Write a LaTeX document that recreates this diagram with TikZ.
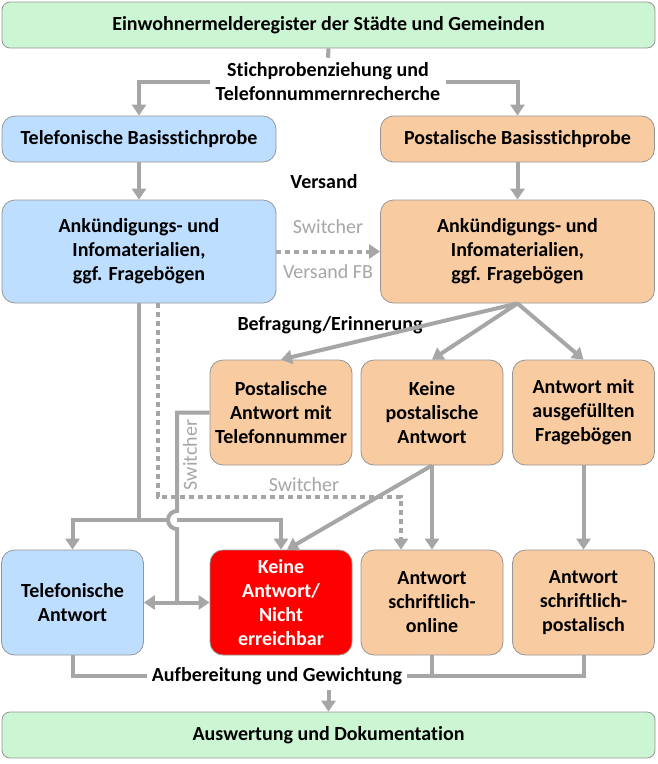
\documentclass[tikz,border=0pt]{standalone}
\usepackage{fontspec}
\setmainfont{Carlito}[Ligatures={NoCommon}]
\usetikzlibrary{arrows.meta, positioning}

\definecolor{regfill}{RGB}{204,245,211}
\definecolor{telfill}{RGB}{189,222,255}
\definecolor{postfill}{RGB}{248,203,161}
\definecolor{nofill}{RGB}{255,0,0}
\definecolor{linegray}{RGB}{166,166,166}
\definecolor{boxline}{RGB}{150,150,150}

\tikzset{
  box/.style={draw=boxline, line width=0.8pt, rounded corners=13pt, align=center, inner sep=0pt},
  widebox/.style={box, rounded corners=8pt, minimum width=653pt, minimum height=46pt, fill=regfill},
  basebox/.style={box, minimum width=274pt, minimum height=46pt},
  infobox/.style={box, minimum width=274pt, minimum height=103pt},
  smallbox/.style={box, minimum width=142pt, minimum height=105pt},
  phone/.style={fill=telfill},
  mail/.style={fill=postfill},
  conn/.style={draw=linegray, line width=4pt},
  arr/.style={conn, -{Triangle[width=14pt,length=11pt]}},
  dotarr/.style={arr, dash pattern=on 5pt off 4pt},
  lbl/.style={inner sep=5pt, align=center},
  switchlbl/.style={lbl, text=linegray, font=\fontsize{20}{24}\selectfont},
}

\begin{document}
\begin{tikzpicture}[x=1pt, y=-1pt, font=\fontsize{20}{24}\selectfont\bfseries]
	\useasboundingbox (0,0) rectangle (658,764);

	%%%% boxes
	\node[widebox] (reg) at (328.5,25) {Einwohnermelderegister der St\"adte und Gemeinden};
	\node[basebox, phone] (telbasis) at (139,139) {Telefonische Basisstichprobe};
	\node[basebox, mail] (postbasis) at (517.5,139) {Postalische Basisstichprobe};
	\node[infobox, phone] (telinfo) at (139,251.5) {Ank\"undigungs- und\\Infomaterialien,\\ggf. Frageb\"ogen};
	\node[infobox, mail] (postinfo) at (517.5,251.5) {Ank\"undigungs- und\\Infomaterialien,\\ggf. Frageb\"ogen};

	\node[smallbox, mail] (posttel) at (281,412.5) {Postalische\\Antwort mit\\Telefonnummer};
	\node[smallbox, mail] (keinepost) at (432,412.5) {Keine\\postalische\\Antwort};
	\node[smallbox, mail] (antwfb) at (583.5,412.5) {Antwort mit\\ausgef\"ullten\\Frageb\"ogen};

	\node[smallbox, phone] (telantw) at (72.5,602.5) {Telefonische\\Antwort};
	\node[smallbox, fill=nofill, text=white] (keine) at (281,602.5) {Keine\\Antwort/\\Nicht\\erreichbar};
	\node[smallbox, mail] (online) at (432,602.5) {Antwort\\schriftlich-\\online};
	\node[smallbox, mail] (postal) at (583.5,602.5) {Antwort\\schriftlich-\\postalisch};

	\node[widebox] (ausw) at (328.5,735) {Auswertung und Dokumentation};

	%%%% labels
	\node[lbl] (stich) at (328,82) {Stichprobenziehung und\\Telefonnummernrecherche};
	\node[lbl] (versand) at (324,182) {Versand};
	\node[switchlbl] (sw1) at (328,227) {Switcher};
	\node[switchlbl] (vfb) at (328,272) {Versand FB};
	\node[lbl] (befr) at (330,325) {Befragung/Erinnerung};
	\node[switchlbl, rotate=90] (sw2) at (190,455) {Switcher};
	\node[switchlbl] (sw3) at (304,485) {Switcher};
	\node[lbl] (aufb) at (277,676) {Aufbereitung und Gewichtung};

	%%%% helper points
	\coordinate (split) at (139,520);
	\coordinate (hopin) at (168,520);
	\coordinate (hopout) at (177,520);
	\coordinate (tee) at (177,602.5);
	\coordinate (swcorner) at (401,497);

	%%%% sampling
	\draw[conn] (reg.south) -- (stich.north);
	\draw[arr] (stich.west) -| (telbasis.north);
	\draw[arr] (stich.east) -| (postbasis.north);
	\draw[arr] (telbasis.south) -- (telinfo.north);
	\draw[arr] (postbasis.south) -- (postinfo.north);
	\draw[dotarr] (telinfo.east) -- (postinfo.west);

	%%%% postal field
	\draw[arr] (postinfo.south) -- (posttel.north);
	\draw[arr] (postinfo.south) -- (keinepost.north);
	\draw[arr] (postinfo.south) -- (antwfb.north);
	\draw[dotarr] ([xshift=19pt]telinfo.south) |- (swcorner) -- ([xshift=-31pt]online.north);
	\draw[arr] (keinepost.south) -- (online.north);
	\draw[arr] (keinepost.south) -- ([xshift=6pt]keine.north);
	\draw[arr] (antwfb.south) -- (postal.north);

	%%%% phone field
	\draw[conn] (telinfo.south) -- (split);
	\draw[arr] (hopin) -| (telantw.north);
	\draw[arr] (hopout) -| (keine.north);
	\draw[conn] (posttel.west) -| (177,511) arc[start angle=90, end angle=270, radius=9pt] -- (tee);
	\draw[arr, {Triangle[width=14pt,length=11pt]}-{Triangle[width=14pt,length=11pt]}] (telantw.east) -- (keine.west);

	%%%% processing
	\draw[conn] (telantw.south) |- (aufb.west);
	\draw[conn] (postal.south) |- (aufb.east);
	\draw[conn] (online.south) -- (online.south |- aufb.east);
	\draw[arr] (ausw.north |- aufb.south) -- (ausw.north);
\end{tikzpicture}
\end{document}
